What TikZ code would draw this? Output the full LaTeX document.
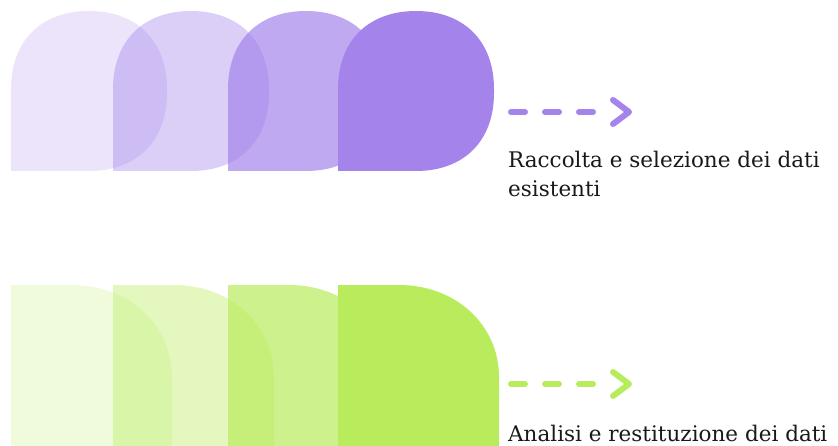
\documentclass[tikz,border=0pt]{standalone}
\usepackage{fontspec}
\setmainfont{DejaVu Serif}
\usetikzlibrary{calc}
\begin{document}
\begin{tikzpicture}[x=1pt,y=1pt,
  purp/.style={fill=purpleA, draw=none},
  grn/.style={fill=greenA, draw=none},
  dashline/.style={line width=6pt, line cap=round, dash pattern=on 14pt off 20pt},
  chev/.style={line width=6pt, line cap=round, line join=round},
  label/.style={anchor=base west, inner sep=0pt, text depth=0pt, font=\fontsize{21.5}{29}\selectfont, text=black!90}]
\definecolor{purpleA}{HTML}{A484EA}
\definecolor{greenA}{HTML}{B8EC5C}
\useasboundingbox (0,0) rectangle (838,445);
\clip (0,0) rectangle (838,445);
% top row
\foreach \L/\op in {11/0.22, 113/0.4, 228/0.7, 338/1}{
  \fill[purp, fill opacity=\op] (\L,274) -- (\L,356)
     .. controls (\L,404) and (\L+30,434) .. (\L+78,434)
     .. controls (\L+126,434) and (\L+156,404) .. (\L+156,356)
     -- (\L+156,352)
     .. controls (\L+156,304) and (\L+126,274) .. (\L+78,274) -- cycle;
}
% bottom row
\foreach \L/\op in {11/0.22, 113/0.4, 228/0.7, 338/1}{
  \fill[grn, fill opacity=\op] (\L,-20) -- (\L,160) -- (\L+61,160)
     .. controls (\L+118,160) and (\L+161,120) .. (\L+161,68) -- (\L+161,-20) -- cycle;
}
% arrows
\coordinate (pa) at (511,333);
\coordinate (pb) at (595,333);
\coordinate (pt) at (629,333);
\draw[dashline, purpleA] (pa) -- (pb);
\draw[chev, purpleA] ($(pt)+(-16,12)$) -- (pt) -- ($(pt)+(-16,-12)$);
\coordinate (ga) at (511,61);
\coordinate (gb) at (595,61);
\coordinate (gt) at (629,61);
\draw[dashline, greenA] (ga) -- (gb);
\draw[chev, greenA] ($(gt)+(-16,12)$) -- (gt) -- ($(gt)+(-16,-12)$);
% labels
\node[label] (t1) at (508,277) {Raccolta e selezione dei dati};
\node[label] (t2) at (508,248) {esistenti};
\node[label] (t3) at (508,3.5) {Analisi e restituzione dei dati};
\end{tikzpicture}
\end{document}
